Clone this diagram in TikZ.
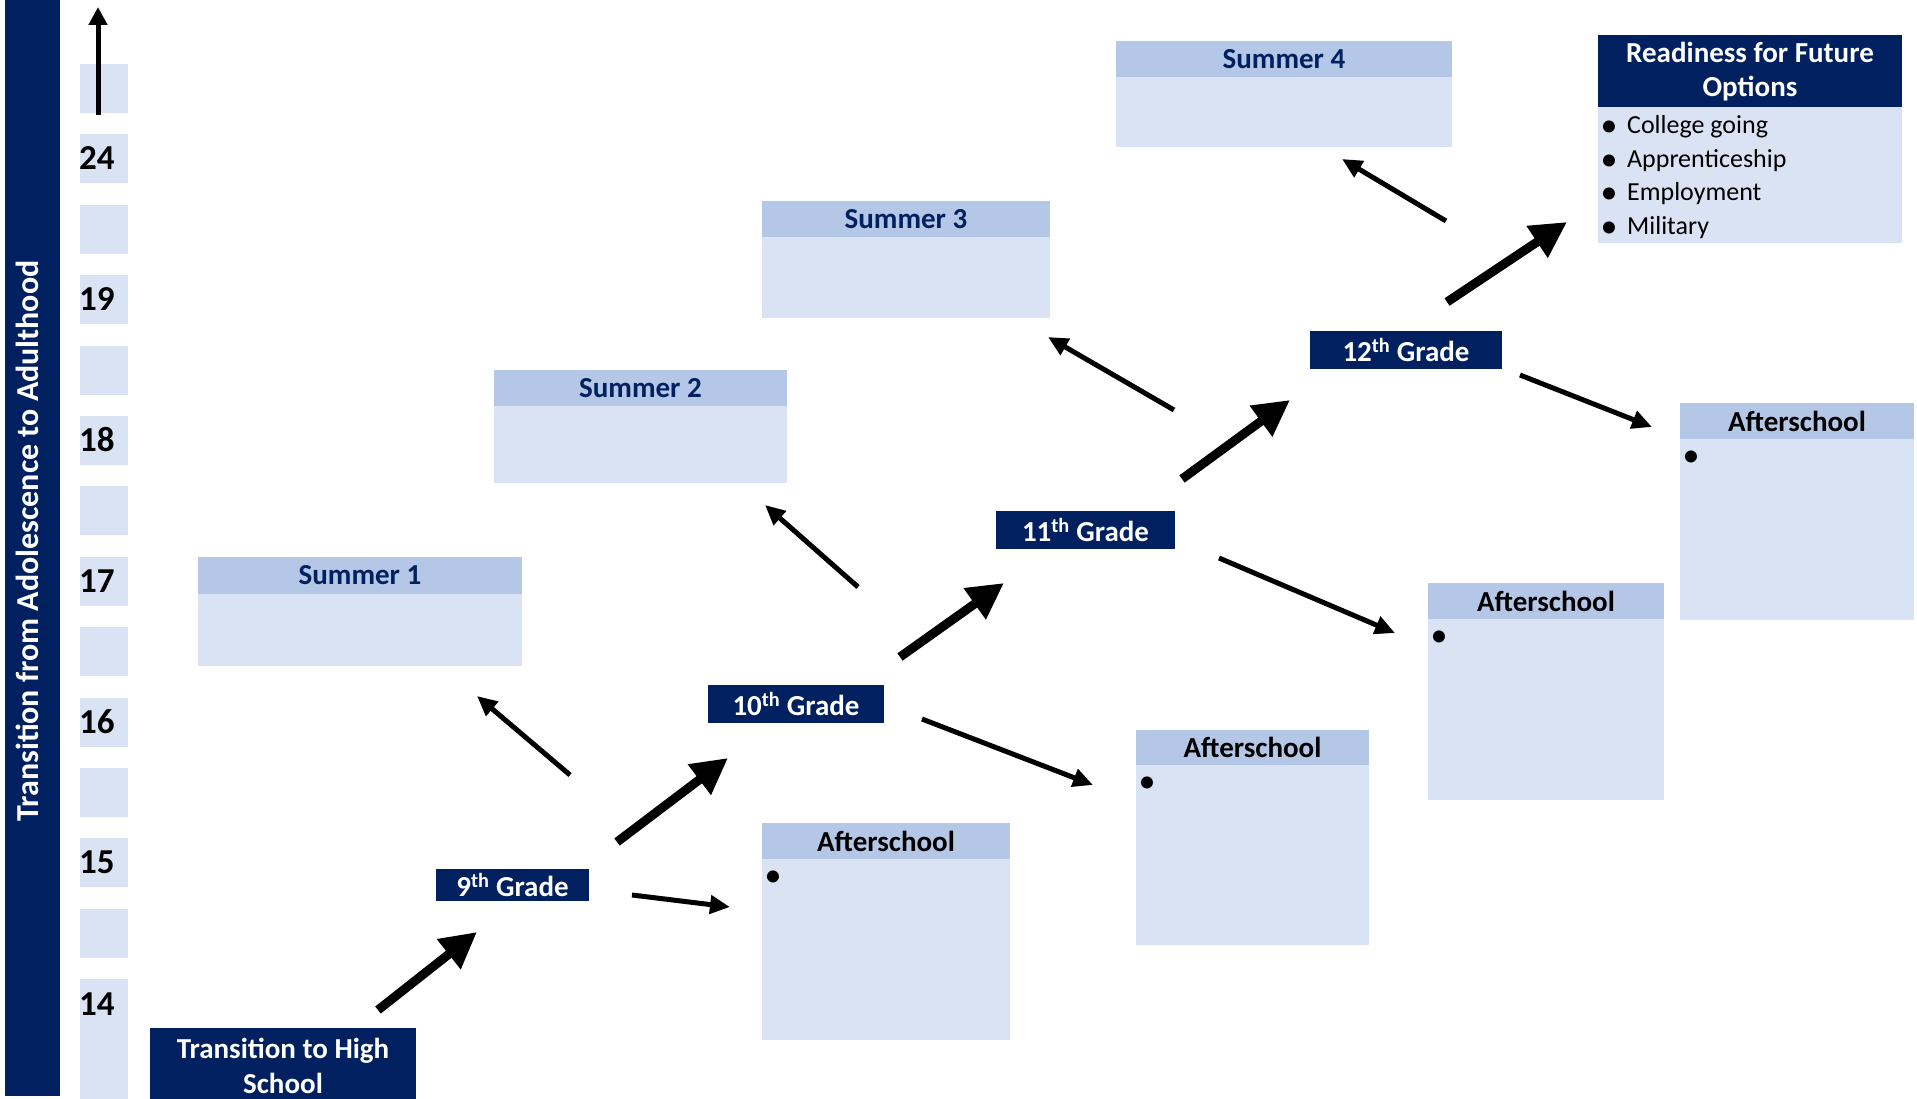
\documentclass[tikz,border=0pt]{standalone}
\usepackage{fontspec}
\setmainfont{Carlito}
\usetikzlibrary{arrows.meta}
\definecolor{navy}{RGB}{0,32,96}
\definecolor{hdrblue}{RGB}{180,199,231}
\definecolor{bodyblue}{RGB}{218,227,243}
\newcommand\fHead{\fontsize{29}{35}\selectfont\bfseries}
\newcommand\fBody{\fontsize{26}{33.6}\selectfont}
\newcommand\fAge{\fontsize{35}{40}\selectfont\bfseries}
\newcommand\fSide{\fontsize{32}{38}\selectfont\bfseries}
\newcommand\bigbul{\raisebox{-3pt}{\fontsize{34}{34}\selectfont\textbullet}}
\tikzset{
  rect/.style={anchor=north west, inner sep=0pt, outer sep=0pt, draw=none},
  navybox/.style={rect, fill=navy, text=white, font=\fHead, align=center},
  hdr/.style={rect, fill=hdrblue, font=\fHead},
  bdy/.style={rect, fill=bodyblue},
  agebox/.style={rect, fill=bodyblue, minimum width=48pt, minimum height=49pt},
  agenum/.style={anchor=west, inner sep=0pt, font=\fAge, text=black},
  dot/.style={inner sep=0pt, font=\fontsize{34}{34}\selectfont},
  listline/.style={font=\fBody, inner sep=0pt, anchor=base west},
  bigarrow/.style={line width=9pt, -{Triangle[length=36pt,width=36pt]}},
  smallarrow/.style={line width=5pt, -{Triangle[length=20pt,width=18pt]}},
}
\begin{document}
\begin{tikzpicture}[x=1pt,y=-1pt]
\useasboundingbox (0,0) rectangle (1917,1099);
\fill[white] (0,0) rectangle (1917,1099);

% side bar
\node[rect, fill=navy, minimum width=55pt, minimum height=1096pt] (bar) at (5,0) {};
\node[rotate=90, inner sep=0pt, text=white, font=\fSide] (bartext) at (27,541) {Transition from Adolescence to Adulthood};

% age column
\foreach \k in {0,...,12} {
  \node[agebox] (age\k) at (80,{64+70.4*\k}) {};
}
\node[agebox, minimum height=120pt] (age13) at (80,979) {};
\node[agenum] (n24) at (79,{64+70.4*1+24}) {24};
\node[agenum] (n19) at (79,{64+70.4*3+24}) {19};
\node[agenum] (n18) at (79,{64+70.4*5+24}) {18};
\node[agenum] (n17) at (79,{64+70.4*7+24}) {17};
\node[agenum] (n16) at (79,{64+70.4*9+24}) {16};
\node[agenum] (n15) at (79,{64+70.4*11+24}) {15};
\node[agenum] (n14) at (79,1004) {14};
\coordinate (upS) at (98,115);
\coordinate (upE) at (98,7);
\draw[line width=5pt, -{Triangle[length=18pt,width=18pt]}] (upS) -- (upE);

% grade boxes
\node[navybox, minimum width=266pt, minimum height=71pt] (ths) at (150,1028) {};
\node[text=white, font=\fHead, align=center, inner sep=0pt] (thstext) at (283,1066) {Transition to High\\School};
\node[navybox, minimum width=153pt, minimum height=32pt] (g9) at (436,869) {9\textsuperscript{th} Grade};
\node[navybox, minimum width=176pt, minimum height=38pt] (g10) at (708,685) {10\textsuperscript{th} Grade};
\node[navybox, minimum width=179pt, minimum height=38pt] (g11) at (996,511) {11\textsuperscript{th} Grade};
\node[navybox, minimum width=192pt, minimum height=38pt] (g12) at (1310,331) {12\textsuperscript{th} Grade};

% readiness
\node[navybox, minimum width=304pt, minimum height=72pt] (rdh) at (1598,35) {};
\node[text=white, font=\fHead, align=center, inner sep=0pt, anchor=base] (rdt1) at (1750,63) {Readiness for Future};
\node[text=white, font=\fHead, align=center, inner sep=0pt, anchor=base] (rdt2) at (1750,97) {Options};
\node[bdy, minimum width=304pt, minimum height=136pt] (rdb) at (1598,107) {};
\node[listline] (r1) at (1600.5,134) {\bigbul\hspace{9.5pt}College going};
\node[listline] (r2) at (1600.5,168) {\bigbul\hspace{9.5pt}Apprenticeship};
\node[listline] (r3) at (1600.5,201) {\bigbul\hspace{9.5pt}Employment};
\node[listline] (r4) at (1600.5,235) {\bigbul\hspace{9.5pt}Military};

% summer boxes
\node[hdr, text=navy, minimum width=324pt, minimum height=37pt] (s1h) at (198,557) {Summer 1};
\node[bdy, minimum width=324pt, minimum height=72pt] (s1b) at (198,594) {};
\node[hdr, text=navy, minimum width=293pt, minimum height=36pt] (s2h) at (494,370) {Summer 2};
\node[bdy, minimum width=293pt, minimum height=77pt] (s2b) at (494,406) {};
\node[hdr, text=navy, minimum width=288pt, minimum height=36pt] (s3h) at (762,201) {Summer 3};
\node[bdy, minimum width=288pt, minimum height=81pt] (s3b) at (762,237) {};
\node[hdr, text=navy, minimum width=336pt, minimum height=36pt] (s4h) at (1116,41) {Summer 4};
\node[bdy, minimum width=336pt, minimum height=70pt] (s4b) at (1116,77) {};

% afterschool boxes
\node[hdr, minimum width=248pt, minimum height=36pt] (a1h) at (762,823) {Afterschool};
\node[bdy, minimum width=248pt, minimum height=181pt] (a1b) at (762,859) {};
\node[dot] (a1d) at (773,879) {\textbullet};
\node[hdr, minimum width=233pt, minimum height=35pt] (a2h) at (1136,730) {Afterschool};
\node[bdy, minimum width=233pt, minimum height=180pt] (a2b) at (1136,765) {};
\node[dot] (a2d) at (1147,785) {\textbullet};
\node[hdr, minimum width=236pt, minimum height=36pt] (a3h) at (1428,583) {Afterschool};
\node[bdy, minimum width=236pt, minimum height=181pt] (a3b) at (1428,619) {};
\node[dot] (a3d) at (1439,639) {\textbullet};
\node[hdr, minimum width=234pt, minimum height=36pt] (a4h) at (1680,403) {Afterschool};
\node[bdy, minimum width=234pt, minimum height=181pt] (a4b) at (1680,439) {};
\node[dot] (a4d) at (1691,459) {\textbullet};

% arrow end points
\coordinate (a0s) at (378,1010); \coordinate (a0e) at (477,932);
\coordinate (a1s) at (617,842);  \coordinate (a1e) at (728,758);
\coordinate (a2s) at (900,657);  \coordinate (a2e) at (1004,583);
\coordinate (a3s) at (1182,479); \coordinate (a3e) at (1290,400);
\coordinate (a4s) at (1447,302); \coordinate (a4e) at (1567,222);
\coordinate (s1s) at (570,775);  \coordinate (s1e) at (477,696);
\coordinate (s2s) at (858,587);  \coordinate (s2e) at (765,505);
\coordinate (s3s) at (1174,410); \coordinate (s3e) at (1048,337);
\coordinate (s4s) at (1446,221); \coordinate (s4e) at (1342,159);
\coordinate (f1s) at (632,895);  \coordinate (f1e) at (730,907);
\coordinate (f2s) at (922,719);  \coordinate (f2e) at (1093,785);
\coordinate (f3s) at (1219,558); \coordinate (f3e) at (1395,633);
\coordinate (f4s) at (1520,375); \coordinate (f4e) at (1652,427);

\foreach \a in {a0,a1,a2,a3,a4} \draw[bigarrow] (\a s) -- (\a e);
\foreach \a in {s1,s2,s3,s4,f1,f2,f3,f4} \draw[smallarrow] (\a s) -- (\a e);
\end{tikzpicture}
\end{document}
